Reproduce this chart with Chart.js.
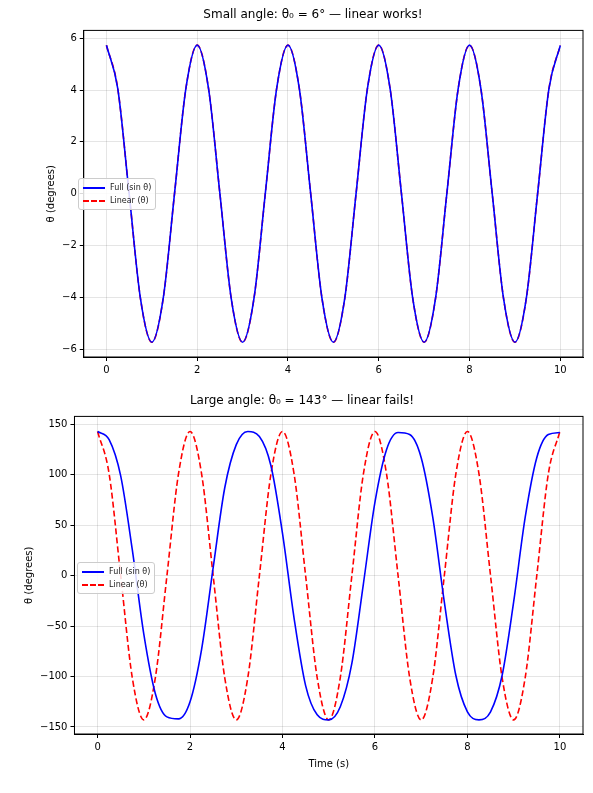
<!DOCTYPE html>
<html><head><meta charset="utf-8">
<script src="https://cdn.jsdelivr.net/npm/chart.js@4"></script>
<style>
body{margin:0;background:#fff;font-family:"DejaVu Sans",sans-serif;}
.wrap{position:absolute;left:0;width:593px;height:396px;}
.leg{position:absolute;border:1px solid #ccc;border-radius:3px;background:rgba(255,255,255,0.85);font-size:8px;padding:2px 4px;line-height:13px;color:#222}
.leg span{display:inline-block;width:22px;height:0;border-top:2px solid;vertical-align:middle;margin-right:5px}
</style></head><body>
<div class="wrap" style="top:0"><canvas id="c1"></canvas></div>
<div class="wrap" style="top:386px"><canvas id="c2"></canvas></div>
<div class="leg" style="left:78px;top:178px"><div><span style="border-color:#0000ff"></span>Full (sin θ)</div><div><span style="border-color:#ff0000;border-top-style:dashed"></span>Linear (θ)</div></div>
<div class="leg" style="left:77px;top:562px"><div><span style="border-color:#0000ff"></span>Full (sin θ)</div><div><span style="border-color:#ff0000;border-top-style:dashed"></span>Linear (θ)</div></div>
<script>
const times=[0,0.25,0.5,0.75,1,1.25,1.5,1.75,2,2.25,2.5,2.75,3,3.25,3.5,3.75,4,4.25,4.5,4.75,5,5.25,5.5,5.75,6,6.25,6.5,6.75,7,7.25,7.5,7.75,8,8.25,8.5,8.75,9,9.25,9.5,9.75,10];
const smallFull=[5.73,4.05,0,-4.05,-5.73,-4.05,0,4.05,5.73,4.05,0,-4.05,-5.73,-4.05,0,4.05,5.73,4.05,0,-4.05,-5.73,-4.05,0,4.05,5.73,4.05,0,-4.05,-5.73,-4.05,0,4.05,5.73,4.05,0,-4.05,-5.73,-4.05,0,4.05,5.72];
const smallLinear=[5.73,4.05,0,-4.05,-5.73,-4.05,0,4.05,5.73,4.05,0,-4.05,-5.73,-4.05,0,4.05,5.73,4.05,0,-4.05,-5.73,-4.05,0,4.05,5.73,4.05,0,-4.05,-5.73,-4.05,0,4.05,5.73,4.05,0,-4.05,-5.73,-4.05,0,4.05,5.73];
const largeFull=[143,135,99,26,-58,-117,-140,-142,-125,-73,8,87,130,143,138,109,42,-42,-109,-138,-143,-130,-87,-8,73,125,142,140,117,58,-26,-99,-135,-143,-135,-99,-26,58,117,140,142];
const largeLinear=[143,101,0,-101,-143,-101,0,101,143,101,0,-101,-143,-101,0,101,143,101,0,-101,-143,-101,0,101,143,101,0,-101,-143,-101,0,101,143,101,0,-101,-143,-101,0,101,143];
Chart.defaults.font.family='"DejaVu Sans", sans-serif';
Chart.defaults.color='#222';
const frame={id:'frame',afterDraw(c){const a=c.chartArea,x=c.ctx;x.save();x.strokeStyle='#000';x.lineWidth=1;x.strokeRect(a.left,a.top,a.right-a.left,a.bottom-a.top);x.restore();}};
function mk(id,full,lin,title,ymin,ymax,step,pad,xlabel,padB){
  const pts=a=>a.map((v,i)=>({x:times[i],y:v}));
  new Chart(document.getElementById(id),{type:'line',plugins:[frame],
    data:{datasets:[
      {data:pts(full),borderColor:'#0000ff',borderWidth:1.6,pointRadius:0,cubicInterpolationMode:'monotone'},
      {data:pts(lin),borderColor:'#ff0000',borderWidth:1.6,borderDash:[6,3],pointRadius:0,cubicInterpolationMode:'monotone'}]},
    options:{responsive:false,animation:false,
      layout:{padding:{left:pad,right:10,top:0,bottom:padB}},
      plugins:{legend:{display:false},title:{display:true,text:title,font:{size:12,weight:'normal'},color:'#000',padding:{top:8,bottom:8}}},
      scales:{
        x:{type:'linear',min:-0.5,max:10.5,afterBuildTicks:s=>{s.ticks=[0,2,4,6,8,10].map(v=>({value:v}))},
          grid:{color:'rgba(0,0,0,0.1)',tickColor:'#000',tickLength:4},border:{color:'#000'},ticks:{font:{size:10},color:'#000'},
          title:{display:!!xlabel,text:xlabel,font:{size:10},color:'#000',padding:2}},
        y:{min:ymin,max:ymax,afterBuildTicks:s=>{const t=[];for(let v=Math.ceil(ymin/step)*step;v<=ymax;v+=step)t.push({value:v});s.ticks=t;},
          grid:{color:'rgba(0,0,0,0.1)',tickColor:'#000',tickLength:4},border:{color:'#000'},
          ticks:{font:{size:10},color:'#000',callback:v=>String(v).replace('-','−')},
          title:{display:true,text:'θ (degrees)',font:{size:10},color:'#000',padding:2}}}}});
}
document.getElementById('c1').width=593;document.getElementById('c1').height=396;
document.getElementById('c2').width=593;document.getElementById('c2').height=396;
mk('c1',smallFull,smallLinear,'Small angle: θ₀ = 6° — linear works!',-6.3,6.3,2,43,null,17);
mk('c2',largeFull,largeLinear,'Large angle: θ₀ = 143° — linear fails!',-157,158,50,21,'Time (s)',10);
</script></body></html>
